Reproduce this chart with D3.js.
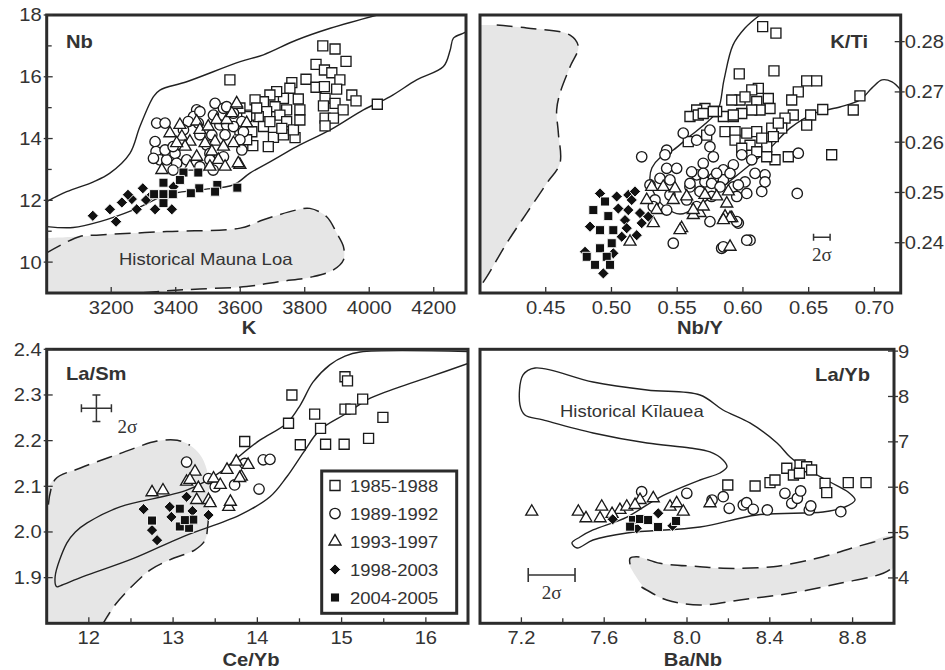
<!DOCTYPE html>
<html><head><meta charset="utf-8">
<script src="https://cdn.jsdelivr.net/npm/d3@7"></script>
<style>body{margin:0;background:#fff}</style>
</head><body><svg id="c" width="945" height="670"></svg>
<script>
// ---------------- DATA ----------------
// Panel A: Nb vs K
const A_xTicks = [3200,3400,3600,3800,4000,4200];
const A_yTicks = [10,12,14,16,18];
const A_yMinor = [11,13,15,17];
const A_sq = [[3856,17.0],[3894,16.9],[3928,16.5],[3835,16.4],[3861,16.22],[3884,16.13],[3909,15.9],[3804,15.92],[3760,15.81],[3754,15.63],[3835,15.66],[3861,15.68],[3899,15.6],[3946,15.41],[3959,15.22],[4025,15.11],[3863,15.3],[3894,15.14],[3858,15.06],[3919,14.93],[3863,14.66],[3889,14.66],[3863,14.41],[3780,15.28],[3785,14.93],[3734,15.3],[3713,15.52],[3692,15.41],[3672,15.19],[3646,15.25],[3708,15.03],[3744,14.93],[3682,14.87],[3723,14.76],[3656,14.71],[3630,14.76],[3672,14.39],[3636,14.22],[3703,14.04],[3734,14.12],[3770,14.03],[3687,13.74],[3639,13.77],[3568,15.9],[3620,14.71],[3651,14.99],[3692,14.55],[3744,14.55],[3729,14.33],[3765,14.28],[3620,13.96],[3599,14.28],[3599,14.99],[3785,14.6]];
const A_ci = [[3341,14.5],[3367,14.5],[3336,13.9],[3339,13.58],[3351,13.31],[3331,13.36],[3372,13.31],[3367,13.63],[3398,13.52],[3403,13.2],[3465,14.93],[3455,14.71],[3522,15.14],[3548,14.98],[3517,14.76],[3537,14.44],[3558,14.44],[3579,14.82],[3605,14.55],[3610,14.22],[3599,13.96],[3605,13.63],[3553,14.12],[3512,14.12],[3475,14.12],[3496,13.79],[3470,14.5],[3439,14.55],[3424,14.28],[3548,13.41],[3506,13.52],[3558,15.03],[3475,14.87],[3506,13.31],[3434,13.31],[3475,13.09],[3516,12.98],[3392,13.74],[3392,12.98],[3579,14.39]];
const A_tr = [[3413,14.44],[3382,14.17],[3465,14.55],[3419,14.06],[3444,13.9],[3475,14.28],[3501,14.39],[3527,14.6],[3558,14.6],[3589,15.09],[3574,14.82],[3522,13.9],[3491,13.85],[3429,13.74],[3403,13.85],[3512,13.58],[3465,13.41],[3532,13.31],[3553,13.09],[3599,13.15],[3506,13.09],[3357,12.98],[3444,13.09],[3579,13.85],[3548,13.74],[3620,14.5],[3594,13.2],[3589,15.14]];
const A_di = [[3143,11.5],[3196,11.71],[3215,11.31],[3233,11.93],[3264,12.04],[3279,11.71],[3298,12.39],[3308,12.01],[3326,12.18],[3336,11.71],[3388,11.71],[3362,12.01],[3393,12.44],[3252,12.18]];
const A_fs = [[3333,12.2],[3362,12.57],[3362,12.2],[3362,11.91],[3391,12.2],[3424,12.9],[3470,12.9],[3473,12.39],[3529,12.5],[3591,12.41],[3447,12.23],[3522,12.28],[3413,12.66]];
const A_upper = [[3000,11.96],[3062,12.28],[3145,12.6],[3196,12.88],[3258,13.52],[3289,14.39],[3331,15.36],[3351,15.57],[3434,15.84],[3600,16.49],[3672,16.71],[3775,17.19],[3879,17.57],[4025,18.0]];
const A_lower = [[3000,11.15],[3082,11.12],[3165,11.31],[3269,11.69],[3372,12.18],[3475,12.34],[3579,12.5],[3630,12.88],[3703,13.31],[3775,13.74],[3879,14.28],[3982,14.93],[4065,15.36],[4147,15.9],[4230,16.33],[4251,16.87],[4261,17.25],[4292,17.41],[4300,17.45]];
const A_shade = [[3000,10.78],[3103,10.83],[3165,10.88],[3372,10.99],[3600,11.1],[3672,11.37],[3775,11.69],[3816,11.74],[3868,11.47],[3899,10.94],[3920,10.5],[3920,10.07],[3889,9.75],[3827,9.53],[3723,9.37],[3620,9.21],[3475,9.13],[3372,9.07],[3289,9.0],[3000,9.0]];
const A_dash = [[3000,10.3],[3103,10.83],[3165,10.88],[3372,10.99],[3600,11.1],[3672,11.37],[3775,11.69],[3816,11.74],[3868,11.47],[3899,10.94],[3920,10.5],[3920,10.07],[3889,9.75],[3827,9.53],[3723,9.37],[3620,9.21],[3475,9.13],[3372,9.07],[3289,9.0]];

// Panel B: K/Ti vs Nb/Y
const B_xTicks = [0.45,0.50,0.55,0.60,0.65,0.70];
const B_yTicks = [0.24,0.25,0.26,0.27,0.28];
const B_sq = [[0.615,0.283],[0.6251,0.2817],[0.5972,0.2736],[0.6236,0.2742],[0.6485,0.2722],[0.6561,0.2722],[0.689,0.2692],[0.6839,0.2664],[0.6607,0.2665],[0.6515,0.2654],[0.6485,0.2634],[0.6675,0.2575],[0.6345,0.2571],[0.6421,0.27],[0.6371,0.2684],[0.6383,0.2654],[0.632,0.2648],[0.6295,0.2628],[0.6219,0.2628],[0.6231,0.2611],[0.6181,0.2591],[0.6244,0.2565],[0.6117,0.2707],[0.6067,0.2704],[0.5978,0.2684],[0.5915,0.2684],[0.6016,0.269],[0.6105,0.2681],[0.6193,0.2687],[0.6206,0.2667],[0.613,0.2664],[0.6067,0.2664],[0.5991,0.2657],[0.5927,0.2651],[0.5851,0.2651],[0.58,0.2661],[0.5711,0.2667],[0.5648,0.2664],[0.5597,0.2651],[0.5724,0.2614],[0.5864,0.2621],[0.594,0.2621],[0.6029,0.2618],[0.6105,0.2621],[0.6143,0.2608],[0.6054,0.2594],[0.594,0.2604],[0.5991,0.2588],[0.6105,0.2581],[0.6181,0.2571],[0.6269,0.2638],[0.566,0.2654],[0.5584,0.2601],[0.5698,0.2657],[0.5775,0.2661],[0.5927,0.2654]];
const B_ci = [[0.6421,0.2578],[0.6413,0.2498],[0.6054,0.2405],[0.5838,0.2389],[0.5965,0.2439],[0.5749,0.2442],[0.6143,0.2502],[0.6168,0.2535],[0.6067,0.2565],[0.5991,0.2575],[0.5927,0.2555],[0.5851,0.2545],[0.5775,0.2571],[0.5698,0.2558],[0.5648,0.2535],[0.5597,0.2511],[0.6016,0.2521],[0.5927,0.2511],[0.5851,0.2525],[0.5775,0.2528],[0.5711,0.2521],[0.6092,0.2538],[0.6029,0.2498],[0.5953,0.2492],[0.6168,0.2521],[0.5749,0.2624],[0.5648,0.2604],[0.523,0.2571],[0.5546,0.2618],[0.542,0.2584],[0.5407,0.2575],[0.5749,0.2591],[0.542,0.2548],[0.5496,0.2548],[0.561,0.2541],[0.5698,0.2538],[0.58,0.2538],[0.5902,0.2538],[0.5369,0.2528],[0.5445,0.2525],[0.5597,0.2518],[0.5762,0.2518],[0.5826,0.2511],[0.5965,0.2515],[0.5293,0.2515],[0.5331,0.2485],[0.5445,0.2495],[0.5673,0.2502],[0.5762,0.2492],[0.5572,0.2485],[0.5648,0.2472],[0.547,0.2399],[0.5851,0.2392],[0.5953,0.2442],[0.6029,0.2405],[0.5318,0.2472],[0.542,0.2465]];
const B_tr = [[0.5306,0.2511],[0.5394,0.2511],[0.5318,0.2439],[0.547,0.2485],[0.5534,0.2429],[0.5572,0.2492],[0.5673,0.2459],[0.5711,0.2495],[0.58,0.2492],[0.5864,0.2452],[0.5877,0.2478],[0.5915,0.2449],[0.5622,0.2455],[0.5483,0.2508],[0.5344,0.2465],[0.5268,0.2485],[0.5698,0.2472],[0.5889,0.2502],[0.5902,0.2449],[0.5622,0.2465],[0.5902,0.2392],[0.5851,0.2445],[0.5521,0.2425],[0.5141,0.2402]];
const B_di = [[0.4913,0.2498],[0.504,0.2492],[0.5128,0.2495],[0.5052,0.2468],[0.5128,0.2465],[0.5217,0.2459],[0.5103,0.2445],[0.523,0.2439],[0.5116,0.2429],[0.5192,0.2415],[0.5078,0.2412],[0.4837,0.2432],[0.4799,0.2382],[0.5014,0.2379],[0.4938,0.2339],[0.528,0.2452],[0.5154,0.2485],[0.5179,0.2502]];
const B_fs = [[0.4862,0.2465],[0.4951,0.2482],[0.4976,0.2453],[0.5014,0.2425],[0.4913,0.2425],[0.5002,0.2399],[0.4913,0.2389],[0.4964,0.2372],[0.4812,0.2372],[0.4875,0.2356],[0.4989,0.2356]];
const B_outline = [[0.613,0.2853],[0.6016,0.2827],[0.5924,0.2793],[0.5856,0.2724],[0.581,0.2664],[0.5711,0.2636],[0.5597,0.2612],[0.5468,0.2584],[0.5369,0.2569],[0.5308,0.2549],[0.5293,0.2525],[0.5331,0.2495],[0.5407,0.2471],[0.5521,0.2457],[0.5673,0.2475],[0.5864,0.2515],[0.6054,0.2555],[0.6206,0.2588],[0.6358,0.2628],[0.6548,0.2658],[0.6738,0.267],[0.689,0.2684],[0.6982,0.2708],[0.7058,0.2724],[0.7134,0.272],[0.72,0.2704]];
const B_shade = [[0.40,0.2833],[0.4127,0.2833],[0.4355,0.2827],[0.4685,0.2813],[0.4748,0.279],[0.4685,0.275],[0.4608,0.2697],[0.4583,0.2664],[0.4596,0.2618],[0.4608,0.2558],[0.4507,0.2518],[0.4355,0.2459],[0.4203,0.2399],[0.4051,0.2332],[0.40,0.2312]];
const B_dash = [[0.4127,0.2833],[0.4355,0.2827],[0.4685,0.2813],[0.4748,0.279],[0.4685,0.275],[0.4608,0.2697],[0.4583,0.2664],[0.4596,0.2618],[0.4608,0.2558],[0.4507,0.2518],[0.4355,0.2459],[0.4203,0.2399],[0.4051,0.2332],[0.40,0.2312]];
const B_sigma = [0.66,0.2411,0.0063];

// Panel C: La/Sm vs Ce/Yb
const C_xTicks = [12,13,14,15,16];
const C_xMinor = [12.5,13.5,14.5,15.5];
const C_yTicks = [1.9,2.0,2.1,2.2,2.3,2.4];
const C_sq = [[15.04,2.34],[15.07,2.331],[15.25,2.291],[14.41,2.3],[14.68,2.258],[15.04,2.269],[15.11,2.269],[15.49,2.251],[14.37,2.238],[14.75,2.227],[14.51,2.191],[14.81,2.192],[15.03,2.192],[15.32,2.205],[13.85,2.198]];
const C_ci = [[13.16,2.153],[13.42,2.117],[13.73,2.103],[13.85,2.15],[14.07,2.158],[14.15,2.159],[14.02,2.094],[13.5,2.099]];
const C_tr = [[12.75,2.087],[12.88,2.091],[13.16,2.11],[13.26,2.132],[13.3,2.096],[13.28,2.07],[13.42,2.07],[13.48,2.117],[13.56,2.103],[13.64,2.136],[13.75,2.154],[13.81,2.121],[13.66,2.055],[13.2,2.114],[13.89,2.147],[13.44,2.063],[13.68,2.066],[13.79,2.118]];
const C_di = [[12.65,2.05],[12.96,2.055],[13.16,2.077],[12.98,2.033],[13.23,2.046],[13.42,2.037],[12.75,2.004],[12.81,1.982]];
const C_fs = [[12.75,2.025],[13.08,2.051],[13.08,2.012],[13.19,2.009],[13.24,2.027],[13.14,2.026]];
const C_outline = [[16.5,2.369],[16.05,2.34],[15.65,2.315],[15.34,2.293],[15.06,2.26],[14.74,2.223],[14.55,2.175],[14.35,2.121],[14.15,2.077],[13.79,2.037],[13.12,1.99],[12.53,1.942],[11.93,1.902],[11.66,1.882],[11.62,1.88],[11.6,1.902],[11.74,1.976],[11.84,2.0],[11.98,2.02],[12.37,2.055],[13.17,2.092],[13.56,2.131],[13.76,2.162],[14.03,2.201],[14.35,2.238],[14.51,2.278],[14.66,2.328],[14.86,2.366],[15.04,2.385],[15.22,2.394],[16.5,2.395]];
const C_shade = [[11.5,2.09],[11.6,2.118],[11.9,2.14],[12.33,2.169],[12.81,2.199],[13.05,2.201],[13.2,2.19],[13.32,2.169],[13.4,2.136],[13.43,2.07],[13.41,2.011],[13.38,1.982],[13.26,1.961],[12.96,1.939],[12.73,1.917],[12.49,1.877],[12.31,1.84],[12.17,1.8],[11.5,1.8]];
const C_dash1 = [[11.52,2.06],[11.6,2.115],[11.9,2.14],[12.33,2.169],[12.81,2.199],[13.05,2.201],[13.2,2.19]];
const C_dash2 = [[13.42,2.03],[13.41,2.011],[13.38,1.982],[13.26,1.961],[12.96,1.939],[12.73,1.917],[12.49,1.877],[12.31,1.84],[12.17,1.8]];
const C_sigma = [12.09,2.271,0.178,0.029];

// Panel D: La/Yb vs Ba/Nb
const D_xTicks = [7.2,7.6,8.0,8.4,8.8];
const D_xMinor = [7.4,7.8,8.2,8.6];
const D_yTicks = [4,5,6,7,8,9];
const D_sq = [[8.197,6.049],[8.329,6.027],[8.401,6.1],[8.425,6.159],[8.482,6.417],[8.514,6.269],[8.546,6.49],[8.578,6.452],[8.602,6.38],[8.543,6.307],[8.667,6.086],[8.675,5.879],[8.779,6.1],[8.865,6.1]];
const D_ci = [[8.175,5.791],[8.204,5.535],[8.272,5.608],[8.288,5.659],[8.32,5.513],[8.388,5.498],[8.473,5.866],[8.506,5.645],[8.533,5.756],[8.549,5.917],[8.591,5.498],[8.598,5.586],[8.743,5.46],[7.999,5.866],[7.781,5.901],[8.121,5.718]];
const D_tr = [[7.25,5.46],[7.475,5.46],[7.512,5.315],[7.588,5.571],[7.58,5.315],[7.676,5.498],[7.709,5.571],[7.773,5.718],[7.837,5.756],[7.918,5.571],[7.95,5.646],[7.982,5.46],[8.111,5.646],[7.749,5.608],[7.638,5.41]];
const D_di = [[7.641,5.293],[7.861,5.425],[7.757,5.094],[7.93,5.15]];
const D_fs = [[7.739,5.277],[7.773,5.299],[7.812,5.277],[7.86,5.123],[7.947,5.255],[7.725,5.13]];
const D_kilauea = [[7.266,8.628],[7.546,8.319],[7.807,8.143],[8.063,8.033],[8.174,7.702],[8.304,7.416],[8.435,6.975],[8.498,6.666],[8.57,6.424],[8.691,6.115],[8.778,5.895],[8.812,5.718],[8.763,5.564],[8.657,5.454],[8.338,5.388],[8.063,5.123],[7.71,4.991],[7.546,4.837],[7.469,4.66],[7.444,4.77],[7.483,4.903],[7.546,5.057],[7.71,5.343],[7.87,5.784],[8.063,6.159],[8.159,6.313],[8.193,6.446],[8.174,6.6],[8.111,6.777],[8.014,6.865],[7.807,6.975],[7.546,7.196],[7.304,7.483],[7.217,7.592],[7.193,7.813],[7.208,8.474]];
const D_shade = [[7.725,4.433],[7.757,4.468],[7.87,4.323],[8.063,4.248],[8.175,4.213],[8.417,4.248],[8.658,4.468],[8.82,4.689],[9.0,4.909],[9.0,4.248],[8.948,4.102],[8.739,3.882],[8.498,3.661],[8.256,3.514],[8.063,3.403],[7.902,3.514],[7.805,3.734],[7.725,4.248]];
const D_dashTop = [[7.725,4.3],[7.725,4.433],[7.757,4.468],[7.87,4.323],[8.063,4.248],[8.175,4.213],[8.417,4.248],[8.658,4.468],[8.82,4.689],[9.0,4.909]];
const D_dashBot = [[7.78,3.8],[7.805,3.734],[7.902,3.514],[8.063,3.403],[8.256,3.514],[8.498,3.661],[8.739,3.882],[8.948,4.102],[9.0,4.248]];
const D_sigma = [7.346,4.065,0.113];

const legendLabels = ["1985-1988","1989-1992","1993-1997","1998-2003","2004-2005"];
const seriesKinds = ["sq","ci","tr","di","fs"];

// ---------------- DRAWING ----------------
const svg = d3.select("#c");
const FONT = "'Liberation Sans', Arial, Helvetica, sans-serif";
const SX = 1.12;
const INK = "#222";
const TXT = "#333";

function txt(g, x, y, s, o = {}) {
  return g.append("text")
    .attr("transform", `translate(${x},${y}) scale(${o.sx || SX},1)`)
    .attr("text-anchor", o.anchor || "start")
    .attr("font-family", o.family || FONT)
    .attr("font-size", o.size || 18)
    .attr("font-weight", o.weight || "normal")
    .attr("fill", o.fill || TXT)
    .text(s);
}

function symPath(kind) {
  if (kind === "sq") { const s = 10; return `M${-s/2},${-s/2}h${s}v${s}h${-s}Z`; }
  if (kind === "fs") { const s = 9; return `M${-s/2},${-s/2}h${s}v${s}h${-s}Z`; }
  if (kind === "tr") { const t = 12, h = t*0.866; return `M0,${-2*h/3}L${t/2},${h/3}L${-t/2},${h/3}Z`; }
  if (kind === "di") { const r = 5.6; return `M0,${-r}L${r},0L0,${r}L${-r},0Z`; }
  return null;
}
function drawSym(g, kind, x, y) {
  const filled = (kind === "di" || kind === "fs");
  let el;
  if (kind === "ci") el = g.append("circle").attr("cx", x).attr("cy", y).attr("r", 5.2);
  else el = g.append("path").attr("d", symPath(kind)).attr("transform", `translate(${x},${y})`);
  el.attr("fill", filled ? "#111" : "#fff")
    .attr("stroke", filled ? "#fff" : "#1a1a1a")
    .attr("stroke-width", filled ? 0.9 : 1.35);
}

let clipId = 0;
function panel(cfg) {
  const x = d3.scaleLinear().domain(cfg.xd).range([cfg.x0, cfg.x1]);
  const y = d3.scaleLinear().domain(cfg.yd).range([cfg.y1, cfg.y0]);
  const id = "clip" + (clipId++);
  svg.append("clipPath").attr("id", id).append("rect")
    .attr("x", cfg.x0).attr("y", cfg.y0).attr("width", cfg.x1 - cfg.x0).attr("height", cfg.y1 - cfg.y0);
  const g = svg.append("g");
  const inner = g.append("g").attr("clip-path", `url(#${id})`);
  const line = d3.line().x(d => x(d[0])).y(d => y(d[1])).curve(d3.curveCatmullRom.alpha(0.5));
  const lineClosed = d3.line().x(d => x(d[0])).y(d => y(d[1])).curve(d3.curveCatmullRomClosed.alpha(0.5));

  (cfg.shades || []).forEach(p => inner.append("path").attr("d", line(p) + "Z").attr("fill", "#e6e6e6").attr("stroke", "none"));
  (cfg.dashes || []).forEach(p => inner.append("path").attr("d", line(p)).attr("fill", "none")
      .attr("stroke", INK).attr("stroke-width", 1.5).attr("stroke-dasharray", "16,8"));
  (cfg.solids || []).forEach(p => inner.append("path").attr("d", line(p)).attr("fill", "none")
      .attr("stroke", INK).attr("stroke-width", 1.4));
  (cfg.closed || []).forEach(p => inner.append("path").attr("d", lineClosed(p)).attr("fill", "none")
      .attr("stroke", INK).attr("stroke-width", 1.4));

  const pts = inner.append("g");
  seriesKinds.forEach((k, i) => {
    (cfg.series[i] || []).forEach(d => drawSym(pts, k, x(d[0]), y(d[1])));
  });

  // frame
  g.append("rect").attr("x", cfg.x0).attr("y", cfg.y0).attr("width", cfg.x1 - cfg.x0).attr("height", cfg.y1 - cfg.y0)
    .attr("fill", "none").attr("stroke", "#2b2b2b").attr("stroke-width", 3);

  // x ticks
  const tk = g.append("g").attr("stroke", "#333").attr("stroke-width", 1.3);
  cfg.xTicks.forEach(v => tk.append("line").attr("x1", x(v)).attr("x2", x(v)).attr("y1", cfg.y1).attr("y2", cfg.y1 - 6));
  (cfg.xMinor || []).forEach(v => tk.append("line").attr("x1", x(v)).attr("x2", x(v)).attr("y1", cfg.y1).attr("y2", cfg.y1 - 5));
  cfg.xTicks.forEach(v => txt(g, x(v), cfg.y1 + 21, cfg.xfmt(v), { anchor: "middle" }));

  // y ticks
  const right = cfg.yRight;
  const ax = right ? cfg.x1 : cfg.x0;
  const dir = right ? -1 : 1;
  cfg.yTicks.forEach(v => tk.append("line").attr("x1", ax + (right ? 4 : -3)).attr("x2", ax + dir * 6).attr("y1", y(v)).attr("y2", y(v)));
  (cfg.yMinor || []).forEach(v => tk.append("line").attr("x1", ax).attr("x2", ax + dir * 5).attr("y1", y(v)).attr("y2", y(v)));
  cfg.yTicks.forEach(v => txt(g, right ? ax + 4 : ax - 5, y(v) + 6.4, cfg.yfmt(v), { anchor: right ? "start" : "end" }));

  // titles
  txt(g, cfg.xTitle[1], cfg.xTitle[2], cfg.xTitle[0], { anchor: "middle", weight: "bold", size: 18 });
  txt(g, cfg.label[1], cfg.label[2], cfg.label[0], { anchor: cfg.label[3] || "start", weight: "bold", size: 18 });
  return { g, x, y, inner };
}

// Panel A
const pA = panel({
  x0: 46.7, x1: 466, y0: 15, y1: 293, xd: [3000, 4300], yd: [9, 18],
  xTicks: A_xTicks, yTicks: A_yTicks, yMinor: A_yMinor,
  xfmt: d => String(d), yfmt: d => String(d),
  shades: [A_shade], dashes: [A_dash], solids: [A_upper, A_lower],
  series: [A_sq, A_ci, A_tr, A_di, A_fs],
  xTitle: ["K", 249, 334], label: ["Nb", 66, 48]
});
txt(pA.g, 119, 265, "Historical Mauna Loa", { size: 16.5 });

// Panel B
const pB = panel({
  x0: 480, x1: 900.7, y0: 15, y1: 293, xd: [0.40, 0.72], yd: [0.23, 0.2853], yRight: true,
  xTicks: B_xTicks, yTicks: B_yTicks,
  xfmt: d3.format(".2f"), yfmt: d3.format(".2f"),
  shades: [B_shade], dashes: [B_dash], solids: [B_outline],
  series: [B_sq, B_ci, B_tr, B_di, B_fs],
  xTitle: ["Nb/Y", 700, 334], label: ["K/Ti", 868, 48, "end"]
});
{
  const [cx, cy, dx] = B_sigma, g = pB.g;
  const x1 = pB.x(cx - dx), x2 = pB.x(cx + dx), yy = pB.y(cy);
  g.append("path").attr("d", `M${x1},${yy}H${x2}M${x1},${yy-3.5}V${yy+3.5}M${x2},${yy-3.5}V${yy+3.5}`)
    .attr("stroke", "#333").attr("stroke-width", 1.5).attr("fill", "none");
  txt(g, pB.x(cx), yy + 24, "2σ", { anchor: "middle", family: "'Liberation Serif', 'Times New Roman', serif", size: 19, sx: 1 });
}

// Panel C
const pC = panel({
  x0: 46.7, x1: 468, y0: 349.3, y1: 623.3, xd: [11.5, 16.5], yd: [1.8, 2.4],
  xTicks: C_xTicks, xMinor: C_xMinor, yTicks: C_yTicks,
  xfmt: d => String(d), yfmt: d3.format(".1f"),
  shades: [C_shade], dashes: [C_dash1, C_dash2], solids: [C_outline],
  series: [C_sq, C_ci, C_tr, C_di, C_fs],
  xTitle: ["Ce/Yb", 251, 666], label: ["La/Sm", 66, 380]
});
{
  const [cx, cy, dx, dy] = C_sigma, g = pC.g;
  const X = pC.x(cx), Y = pC.y(cy);
  const xl = pC.x(cx - dx), xr = pC.x(cx + dx), yt = pC.y(cy + dy), yb = pC.y(cy - dy);
  g.append("path").attr("d", `M${xl},${Y}H${xr}M${X},${yt}V${yb}M${xl},${Y-4}V${Y+4}M${xr},${Y-4}V${Y+4}M${X-4},${yt}H${X+4}M${X-4},${yb}H${X+4}`)
    .attr("stroke", "#333").attr("stroke-width", 1.5).attr("fill", "none");
  txt(g, xr + 6, yb + 12, "2σ", { family: "'Liberation Serif', 'Times New Roman', serif", size: 19, sx: 1 });
  // legend
  const L = g.append("g");
  L.append("rect").attr("x", 321.7).attr("y", 471).attr("width", 135).attr("height", 142.3)
    .attr("fill", "#fff").attr("stroke", "#2b2b2b").attr("stroke-width", 3);
  legendLabels.forEach((s, i) => {
    const yy = 485.5 + i * 28;
    drawSym(L, seriesKinds[i], 335, yy);
    txt(L, 350, yy + 6, s, { size: 16.5 });
  });
}

// Panel D
const pD = panel({
  x0: 480, x1: 894, y0: 349.3, y1: 623.3, xd: [7.0, 9.0], yd: [3, 9.04], yRight: true,
  xTicks: D_xTicks, xMinor: D_xMinor, yTicks: D_yTicks,
  xfmt: d3.format(".1f"), yfmt: d => String(d),
  shades: [D_shade], dashes: [D_dashTop, D_dashBot], closed: [D_kilauea],
  series: [D_sq, D_ci, D_tr, D_di, D_fs],
  xTitle: ["Ba/Nb", 693, 666], label: ["La/Yb", 870, 381, "end"]
});
txt(pD.g, 560, 417, "Historical Kīlauea", { size: 16.5 });
{
  const [cx, cy, dx] = D_sigma, g = pD.g;
  const x1 = pD.x(cx - dx), x2 = pD.x(cx + dx), yy = pD.y(cy);
  g.append("path").attr("d", `M${x1},${yy}H${x2}M${x1},${yy-7}V${yy+7}M${x2},${yy-7}V${yy+7}`)
    .attr("stroke", "#333").attr("stroke-width", 1.6).attr("fill", "none");
  txt(g, pD.x(cx), yy + 24, "2σ", { anchor: "middle", family: "'Liberation Serif', 'Times New Roman', serif", size: 19, sx: 1 });
}
</script></body></html>
